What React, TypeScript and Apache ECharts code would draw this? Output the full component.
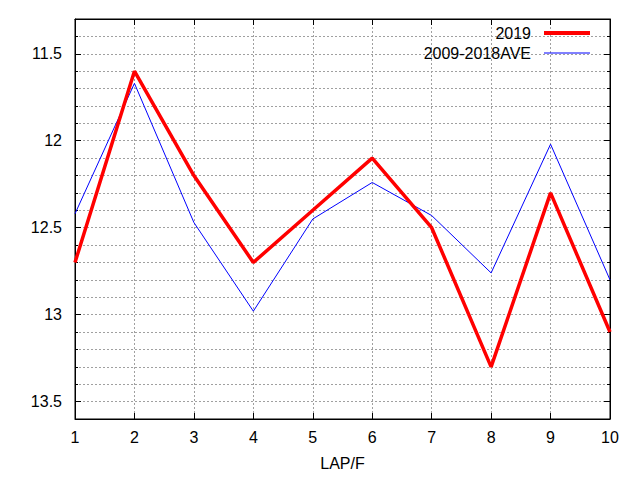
import React, { useEffect, useRef } from "react";
import * as echarts from "echarts";

const laps = [1, 2, 3, 4, 5, 6, 7, 8, 9, 10];
const values2019 = [12.7, 11.6, 12.2, 12.7, 12.4, 12.1, 12.5, 13.3, 12.3, 13.1];
const valuesAve = [12.42, 11.67, 12.47, 12.98, 12.45, 12.24, 12.43, 12.76, 12.02, 12.8];
const seriesNames = ["2019", "2009-2018AVE"];
const majorYTicks = [11.5, 12, 12.5, 13, 13.5];
const yMin = 11.3;
const yMax = 13.6;

const FONT = "'Liberation Sans', Arial, sans-serif";

export default function App() {
  const ref = useRef<HTMLDivElement>(null);
  useEffect(() => {
    if (!ref.current) return;
    const chart = echarts.init(ref.current, undefined, { renderer: "svg" });
    const gridLine = { show: true, lineStyle: { color: "#a0a0a0", type: [2, 2], width: 1 } };
    const baseY = {
      type: "value",
      inverse: true,
      min: yMin,
      max: yMax,
      interval: 0.1,
      axisLine: { show: true, lineStyle: { color: "#000", width: 1 } },
      axisLabel: { show: false },
      splitLine: { show: false },
    };
    const majorY = {
      type: "value",
      inverse: true,
      min: yMin,
      max: yMax,
      axisLine: { show: false },
      splitLine: { show: false },
      axisTick: { show: true, inside: true, length: 6, lineStyle: { color: "#000" }, customValues: majorYTicks },
    };
    chart.setOption({
      animation: false,
      backgroundColor: "#fff",
      textStyle: { fontFamily: FONT },
      grid: { left: 75, right: 30, top: 19, bottom: 61, show: true, borderColor: "#000", borderWidth: 1 },
      legend: {
        data: [
          { name: seriesNames[0], lineStyle: { width: 4, color: "#ff0000" } },
          { name: seriesNames[1], lineStyle: { width: 1, color: "#0000ff" } },
        ],
        orient: "vertical",
        right: 48,
        top: 25,
        align: "right",
        itemWidth: 46,
        itemHeight: 16,
        itemGap: 4,
        padding: 0,
        itemStyle: { opacity: 0 },
        textStyle: { fontSize: 16, color: "#000", fontFamily: FONT, padding: [0, 8, 0, 0] },
      },
      xAxis: [
        {
          type: "value",
          position: "bottom",
          min: 1,
          max: 10,
          interval: 1,
          name: "LAP/F",
          nameLocation: "middle",
          nameGap: 36,
          nameTextStyle: { fontSize: 16, color: "#000", fontFamily: FONT },
          axisLine: { show: true, lineStyle: { color: "#000" } },
          axisTick: { show: true, inside: true, length: 6, lineStyle: { color: "#000" } },
          axisLabel: { fontSize: 16, color: "#000", margin: 10, fontFamily: FONT },
          splitLine: gridLine,
        },
        {
          type: "value",
          position: "top",
          min: 1,
          max: 10,
          interval: 1,
          axisLine: { show: true, lineStyle: { color: "#000" } },
          axisTick: { show: true, inside: true, length: 6, lineStyle: { color: "#000" } },
          axisLabel: { show: false },
          splitLine: { show: false },
        },
      ],
      yAxis: [
        {
          ...baseY,
          position: "left",
          axisTick: { show: true, inside: true, length: 3, lineStyle: { color: "#000" } },
          splitLine: gridLine,
        },
        {
          ...majorY,
          position: "left",
          offset: 0,
          axisLabel: { show: true, fontSize: 16, color: "#000", margin: 13, fontFamily: FONT, customValues: majorYTicks },
        },
        {
          ...baseY,
          position: "right",
          axisTick: { show: true, inside: true, length: 3, lineStyle: { color: "#000" } },
        },
        {
          ...majorY,
          position: "right",
          offset: 0,
          axisLabel: { show: false },
        },
      ],
      series: [
        {
          name: seriesNames[0],
          type: "line",
          symbol: "none",
          xAxisIndex: 0,
          yAxisIndex: 0,
          data: laps.map((l, i) => [l, values2019[i]]),
          lineStyle: { color: "#ff0000", width: 3.5 },
          itemStyle: { color: "#ff0000" },
          z: 3,
        },
        {
          name: seriesNames[1],
          type: "line",
          symbol: "none",
          xAxisIndex: 0,
          yAxisIndex: 0,
          data: laps.map((l, i) => [l, valuesAve[i]]),
          lineStyle: { color: "#0000ff", width: 1 },
          itemStyle: { color: "#0000ff" },
          z: 2,
        },
      ],
    });
    return () => chart.dispose();
  }, []);
  return (
    <div
      ref={ref}
      style={{ position: "fixed", left: 0, top: 0, width: 640, height: 480, background: "#fff" }}
    />
  );
}
